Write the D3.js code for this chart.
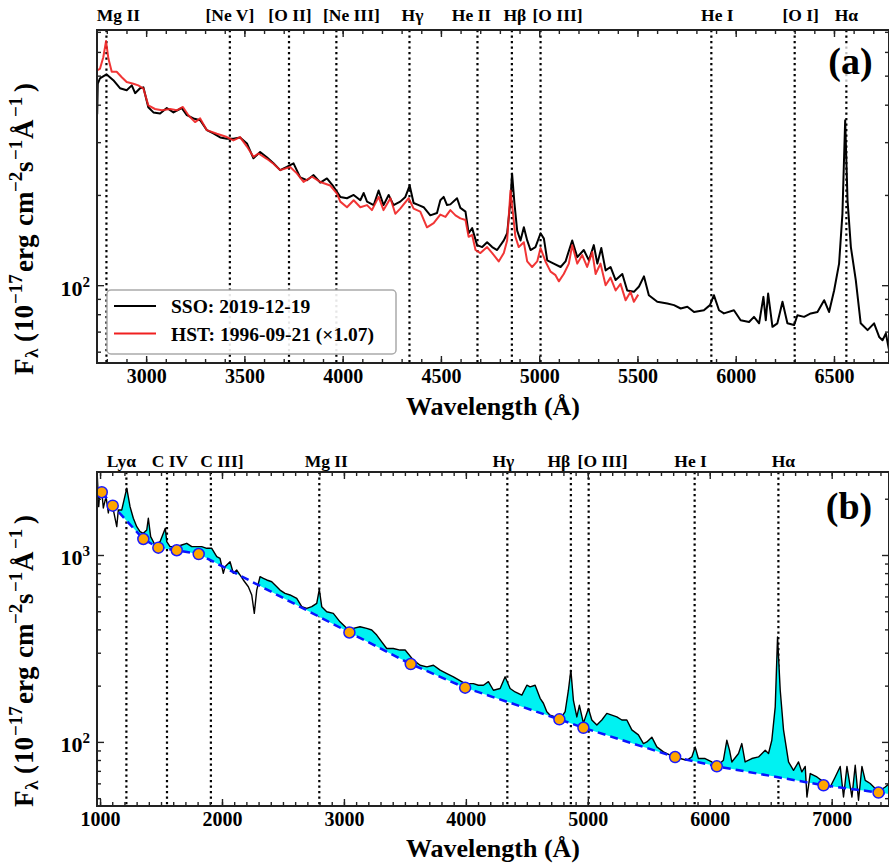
<!DOCTYPE html>
<html>
<head>
<meta charset="utf-8">
<script src="https://cdn.jsdelivr.net/npm/d3@7"></script>
<style>
  body { margin: 0; background: #fff; }
  svg { display: block; }
  text { font-family: "Liberation Serif", "Times New Roman", serif; font-weight: bold; fill: #000; }
</style>
</head>
<body>
<svg id="fig" width="889" height="866"></svg>
<script>
// ---------- Panel (a): optical spectra ----------
const ssoWave = [2751,2754,2765,2798,2833,2867,2901,2927,2944,2969,2986,3011,3037,3071,3105,3139,3181,3207,3241,3275,
  3309,3342,3377,3411,3444,3478,3513,3546,3580,3614,3648,3682,3716,3750,3784,3818,3852,3886,3920,3954,
  3988,4022,4056,4090,4107,4124,4158,4183,4208,4234,4259,4293,4319,4341,4361,4387,4412,4446,4480,4497,
  4514,4531,4548,4582,4599,4625,4641,4659,4684,4710,4735,4761,4786,4820,4837,4854,4862,4874,4888,4905,
  4922,4939,4956,4981,5007,5024,5041,5074,5109,5134,5168,5194,5227,5253,5278,5296,5316,5338,5363,5389,
  5423,5448,5482,5508,5533,5558,5601,5652,5686,5720,5754,5788,5838,5869,5889,5915,5940,5991,6025,6068,
  6093,6119,6141,6153,6165,6187,6212,6238,6263,6297,6314,6348,6382,6416,6450,6475,6501,6526,6543,6557,
  6569,6586,6611,6636,6671,6704,6730,6747,6764,6784];
const ssoFlux = [372,470,490,505,483,454,447,464,437,454,457,392,377,374,390,377,390,369,360,355,
  329,321,311,308,308,311,297,265,278,267,255,242,248,255,229,224,233,220,227,213,
  197,195,200,192,203,190,185,207,185,200,185,190,197,215,188,185,182,171,174,192,
  197,185,186,195,181,176,149,155,136,134,139,134,131,141,149,192,236,188,152,141,
  156,141,131,134,149,143,121,118,115,120,141,124,131,121,136,118,133,112,115,104,
  109,96,95,99,107,92.6,88,86.9,85.8,83.6,84.7,81.4,82.5,85.8,92.6,82.5,80.5,82.5,76.4,75.4,
  78.4,74.6,91.4,76.4,93.8,72.6,74.6,88,74.6,73.6,79.4,78.4,80.5,81.4,89.1,81.4,96.2,118,173,355,
  192,134,104,74.6,70.8,74.6,67.2,65.5,69,59];

const hstWave = [2750,2765,2782,2796,2808,2825,2850,2876,2901,2935,2960,2986,3011,3045,3080,3122,3156,3187,3215,3249,
  3275,3309,3360,3411,3444,3478,3513,3546,3572,3614,3648,3682,3733,3767,3801,3844,3886,3937,3971,3988,
  4022,4056,4090,4124,4149,4183,4208,4243,4268,4293,4336,4361,4395,4429,4463,4497,4523,4548,4574,4599,
  4625,4641,4659,4676,4701,4735,4761,4794,4820,4837,4854,4867,4879,4896,4922,4939,4964,4990,5007,5032,
  5058,5083,5100,5125,5151,5168,5194,5219,5244,5270,5287,5312,5338,5363,5389,5414,5440,5465,5482,5504];
const hstFlux = [521,527,576,652,570,515,515,494,476,470,464,453,398,387,383,387,383,393,369,350,
  360,329,320,312,304,312,290,268,275,264,254,242,248,236,221,230,221,215,202,190,
  182,192,182,185,178,197,178,195,173,180,195,180,176,156,161,172,169,178,171,167,
  165,145,147,131,128,134,128,120,128,141,207,173,145,134,139,120,115,120,133,120,
  111,108,103,109,118,136,118,126,115,129,109,118,100,106,96,101,89,95,88,93];

const topLineNames = ["Mg II","[Ne V]","[O II]","[Ne III]","H\u03b3","He II","H\u03b2","[O III]","He I","[O I]","H\u03b1"];
const topLineWave  = [2798,3426,3727,3968,4340,4686,4861,5007,5876,6300,6563];

const topXMajor = [3000,3500,4000,4500,5000,5500,6000,6500];
const topYMajor = [100];
const topYMinor = [60,70,80,90,200,300,400,500,600,700];

const legendLabels = ["SSO: 2019-12-19", "HST: 1996-09-21 (\u00d71.07)"];

// ---------- Panel (b): rest-frame composite with continuum ----------
const specWave = [977,989,1000,1014,1027,1049,1068,1082,1109,1137,1150,1178,1219,1246,1273,1301,1328,1355,1383,1396,
  1415,1451,1492,1535,1547,1574,1629,1670,1711,1752,1793,1834,1875,1916,1957,1984,2011,2025,2066,2093,
  2121,2175,2216,2244,2265,2285,2312,2339,2367,2408,2435,2476,2517,2558,2613,2654,2695,2736,2777,2798,
  2818,2859,2913,2968,3023,3077,3132,3187,3228,3269,3310,3351,3405,3460,3502,3570,3625,3680,3734,3789,
  3844,3898,3994,4062,4103,4144,4185,4226,4281,4322,4363,4404,4459,4500,4527,4568,4609,4636,4664,4691,
  4732,4773,4814,4841,4861,4882,4910,4931,4964,5005,5033,5074,5115,5156,5197,5238,5279,5320,5361,5415,
  5456,5484,5525,5566,5620,5675,5716,5757,5812,5853,5880,5907,5962,6017,6058,6112,6140,6162,6181,6236,
  6263,6290,6345,6400,6455,6482,6509,6537,6556,6578,6605,6646,6687,6728,6755,6783,6797,6824,6879,6933,
  6988,7029,7070,7097,7125,7166,7193,7220,7248,7275,7316,7357,7398,7439,7472];
const specFlux = [2682,1814,2285,2183,1785,2052,1679,1930,1742,1418,1742,1742,2277,1814,1573,1418,1333,1307,1361,1573,
  1253,1131,1178,1390,1178,1108,1108,1131,1155,1108,1108,1108,1086,1086,979,960,798,866,921,798,
  831,735,676,611,487,649,765,750,735,719,691,649,623,611,586,529,518,529,551,655,
  529,497,487,439,405,405,413,405,397,373,343,316,316,310,310,274,257,252,257,242,
  232,223,205,205,201,201,210,189,193,223,193,185,178,201,197,201,171,161,145,139,
  136,132,145,189,242,167,136,157,126,151,131,123,131,142,139,136,131,131,116,109,
  98,100,106,94,88.4,84.9,83.1,81.5,79.8,83.1,94,81.5,81.5,78.1,74.1,79.8,102,90.3,78.1,86.7,
  98,78.1,81.5,83.1,90.3,86.7,102,154,364,189,116,78.1,70.5,78.1,69.1,73.9,50.7,67.7,64.9,61.1,
  57.4,64.9,73.9,50.7,73.9,50.7,75,48.7,73.9,62.3,59.9,56.3,55.1,57.4,59.9];

// continuum windows (markers) and the continuum drawn through them
const windowWave = [1014,1104,1355,1478,1629,1809,3045,3548,3994,4767,4964,5716,6058,6933,7384];
const windowFlux = [2167,1837,1218,1094,1060,1012,385,261,195,132,119,83,74,58.6,53.6];
const contWave = [1014,1104,1355,1478,1629,1809,3045,3548,3994,4767,4964,5716,6058,6933,7384,7470];
const contFlux = [2167,1837,1218,1094,1060,1012,385,261,195,132,119,83,74,58.6,53.6,52.6];

const botLineNames = ["Ly\u03b1","C IV","C III]","Mg II","H\u03b3","H\u03b2","[O III]","He I","H\u03b1"];
const botLineWave  = [1216,1549,1909,2798,4340,4861,5007,5876,6563];

const botXMajor = [1000,2000,3000,4000,5000,6000,7000];
const botYMajor = [100,1000];
const botYMinor = [50,60,70,80,90,200,300,400,500,600,700,800,900,2000];

// ---------- layout ----------
const frameA = {left: 97, right: 889, top: 30, bottom: 363};
const frameB = {left: 97, right: 889, top: 472, bottom: 806};
const topNudge = [12, 0, 1, 15, 3, -6, 3, 17, 6, 6, 0];
const botNudge = [-5, 3, 11, 7, -4, -12, 14, -4, 5];

const svg = d3.select("#fig");
const defs = svg.append("defs");

const xA = d3.scaleLinear([2750, 6780], [frameA.left, frameA.right]);
const yA = d3.scaleLog([55, 710], [frameA.bottom, frameA.top]);
const xB = d3.scaleLinear([975, 7470], [frameB.left, frameB.right]);
const yB = d3.scaleLog([45.4, 2780], [frameB.bottom, frameB.top]);

function clipFor(id, f) {
  defs.append("clipPath").attr("id", id).append("rect")
    .attr("x", f.left).attr("y", f.top).attr("width", f.right - f.left).attr("height", f.bottom - f.top);
}
clipFor("clipA", frameA);
clipFor("clipB", frameB);

function minorRange(lo, hi, step) { return d3.range(lo, hi + 1, step); }

function drawAxes(f, x, y, xMajor, xMinor, yMajor, yMinor) {
  const M = 7, m = 4;
  const g = svg.append("g");
  const style = sel => {
    sel.select(".domain").remove();
    sel.selectAll(".tick line").attr("stroke", "#222").attr("stroke-width", 1.4);
  };
  // bottom, labelled
  g.append("g").attr("transform", `translate(0,${f.bottom})`)
    .call(d3.axisBottom(x).tickValues(xMajor).tickSize(-M).tickPadding(6).tickFormat(d3.format("d")))
    .call(style)
    .call(s => s.selectAll("text").attr("font-size", 20).attr("font-family", null).attr("fill", "#000"));
  g.append("g").attr("transform", `translate(0,${f.bottom})`)
    .call(d3.axisBottom(x).tickValues(xMinor).tickSize(-m).tickFormat(() => "")).call(style);
  // top
  g.append("g").attr("transform", `translate(0,${f.top})`)
    .call(d3.axisTop(x).tickValues(xMajor).tickSize(-M).tickFormat(() => "")).call(style);
  g.append("g").attr("transform", `translate(0,${f.top})`)
    .call(d3.axisTop(x).tickValues(xMinor).tickSize(-m).tickFormat(() => "")).call(style);
  // left / right
  [[f.left, d3.axisLeft], [f.right, d3.axisRight]].forEach(([pos, ax]) => {
    g.append("g").attr("transform", `translate(${pos},0)`)
      .call(ax(y).tickValues(yMajor).tickSize(-M).tickFormat(() => "")).call(style);
    g.append("g").attr("transform", `translate(${pos},0)`)
      .call(ax(y).tickValues(yMinor).tickSize(-m).tickFormat(() => "")).call(style);
  });
  // power-of-ten labels
  yMajor.forEach(v => {
    const t = g.append("text").attr("x", f.left - 7).attr("y", y(v) + 10.5)
      .attr("text-anchor", "end").attr("font-size", 22).text("10");
    t.append("tspan").attr("dy", -9).attr("font-size", 15).text(String(Math.round(Math.log10(v))));
  });
  // frame
  g.append("rect").attr("x", f.left).attr("y", f.top)
    .attr("width", f.right - f.left).attr("height", f.bottom - f.top)
    .attr("fill", "none").attr("stroke", "#222").attr("stroke-width", 2);
}

function yLabel(bottomEnd) {
  // pieces of F_lambda (10^-17 erg cm^-2 s^-1 A^-1), placed along the rotated baseline
  const parts = [
    ["F", 0, 27, 0], ["\u03bb", 17, 19, 5], ["(", 33, 27, 0], ["10", 43, 27, 0],
    ["\u221217", 71, 19, -11], ["erg", 103, 27, 0], ["cm", 149, 27, 0], ["\u22122", 183, 19, -11],
    ["s", 203, 27, 0], ["\u22121", 215, 19, -11], ["\u00c5", 236, 27, 0], ["\u22121", 258, 19, -11],
    [")", 283, 27, 0]
  ];
  const g = svg.append("g").attr("transform", `translate(33,${bottomEnd}) rotate(-90)`);
  parts.forEach(([t, off, fs, dy]) => {
    g.append("text").attr("x", off).attr("y", dy).attr("font-size", fs).text(t);
  });
}

function lineMarkers(f, x, waves, names, nudge, labelY) {
  const g = svg.append("g");
  g.selectAll("line").data(waves).join("line")
    .attr("x1", d => x(d)).attr("x2", d => x(d))
    .attr("y1", f.top).attr("y2", f.bottom)
    .attr("stroke", "#000").attr("stroke-width", 2.2).attr("stroke-dasharray", "2.2,3.3");
  g.selectAll("text").data(waves).join("text")
    .attr("x", (d, i) => x(d) + nudge[i]).attr("y", labelY)
    .attr("text-anchor", "middle").attr("font-size", 17.5)
    .text((d, i) => names[i]);
}

// ---------- draw panel (a) ----------
lineMarkers(frameA, xA, topLineWave, topLineNames, topNudge, 21);

const plotA = svg.append("g").attr("clip-path", "url(#clipA)");
const lineA = d3.line().x(d => xA(d[0])).y(d => yA(d[1]));
plotA.append("path").datum(d3.zip(ssoWave, ssoFlux)).attr("d", lineA)
  .attr("fill", "none").attr("stroke", "#000").attr("stroke-width", 2).attr("stroke-linejoin", "round");
plotA.append("path").datum(d3.zip(hstWave, hstFlux)).attr("d", lineA)
  .attr("fill", "none").attr("stroke", "#f02020").attr("stroke-opacity", 0.9)
  .attr("stroke-width", 2).attr("stroke-linejoin", "round");

drawAxes(frameA, xA, yA, topXMajor, minorRange(2800, 6700, 100), topYMajor, topYMinor);

// legend
const leg = svg.append("g");
leg.append("rect").attr("x", 107).attr("y", 290).attr("width", 289).attr("height", 64).attr("rx", 4)
  .attr("fill", "#fff").attr("fill-opacity", 0.9).attr("stroke", "#aaa").attr("stroke-width", 1.5);
[["#000", 306], ["#f02020", 333.5]].forEach(([c, yy], i) => {
  leg.append("line").attr("x1", 114).attr("x2", 156).attr("y1", yy).attr("y2", yy)
    .attr("stroke", c).attr("stroke-width", 2);
  leg.append("text").attr("x", 171).attr("y", yy + 7).attr("font-size", 19.5).text(legendLabels[i]);
});

svg.append("rect").attr("x", 827).attr("y", 45).attr("width", 48).attr("height", 38)
  .attr("fill", "#fff").attr("fill-opacity", 0.75);
svg.append("text").attr("x", 850.5).attr("y", 74).attr("text-anchor", "middle").attr("font-size", 38).text("(a)");

svg.append("text").attr("x", 493).attr("y", 415).attr("text-anchor", "middle").attr("font-size", 26)
  .text("Wavelength (\u00c5)");
yLabel(375);

// ---------- draw panel (b) ----------
lineMarkers(frameB, xB, botLineWave, botLineNames, botNudge, 467);

const contPts = d3.zip(contWave, contFlux);
const contLine = d3.line().x(d => xB(d[0])).y(d => yB(d[1]));
// region lying above the continuum: excess emission gets shaded
defs.append("clipPath").attr("id", "aboveCont").append("path")
  .attr("d", contLine(contPts) +
    `L${xB(contWave[contWave.length - 1])},${frameB.top - 5}L${xB(contWave[0])},${frameB.top - 5}Z`);

const plotB = svg.append("g").attr("clip-path", "url(#clipB)");
const specPts = d3.zip(specWave, specFlux);
plotB.append("g").attr("clip-path", "url(#aboveCont)")
  .append("path").datum(specPts)
  .attr("d", d3.area().x(d => xB(d[0])).y0(frameB.bottom).y1(d => yB(d[1])))
  .attr("fill", "#00f2f2");
plotB.append("path").datum(specPts)
  .attr("d", d3.line().x(d => xB(d[0])).y(d => yB(d[1])))
  .attr("fill", "none").attr("stroke", "#000").attr("stroke-width", 1.4).attr("stroke-linejoin", "round");
plotB.append("path").datum(contPts).attr("d", contLine)
  .attr("fill", "none").attr("stroke", "#0a14ff").attr("stroke-width", 2.5).attr("stroke-dasharray", "8,5");
plotB.selectAll("circle").data(d3.zip(windowWave, windowFlux)).join("circle")
  .attr("cx", d => xB(d[0])).attr("cy", d => yB(d[1])).attr("r", 5.5)
  .attr("fill", "#ffa500").attr("stroke", "#1a1aff").attr("stroke-width", 1.5);

drawAxes(frameB, xB, yB, botXMajor, minorRange(1000, 7400, 100), botYMajor, botYMinor);

svg.append("rect").attr("x", 825).attr("y", 490).attr("width", 50).attr("height", 38)
  .attr("fill", "#fff").attr("fill-opacity", 0.75);
svg.append("text").attr("x", 849).attr("y", 519).attr("text-anchor", "middle").attr("font-size", 38).text("(b)");

svg.append("text").attr("x", 493).attr("y", 857).attr("text-anchor", "middle").attr("font-size", 26)
  .text("Wavelength (\u00c5)");
yLabel(807);
</script>
</body>
</html>
